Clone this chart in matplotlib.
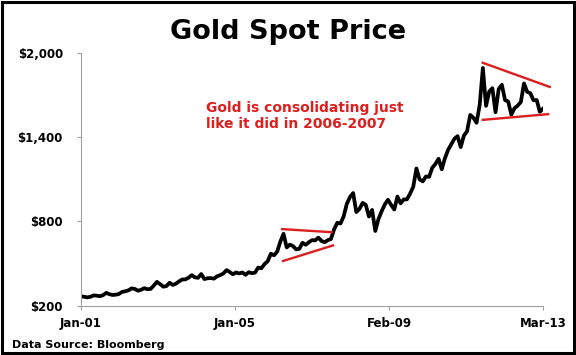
import matplotlib
matplotlib.use("Agg")
import matplotlib.pyplot as plt
from matplotlib.patches import Rectangle

# Monthly gold spot price (USD/oz), Jan-2001 .. Mar-2013
prices = [
    266, 262, 258, 262, 272, 270, 266, 274, 290, 280, 275, 277,      # 2001
    282, 297, 301, 308, 322, 318, 305, 312, 323, 316, 318, 342,      # 2002
    368, 352, 334, 338, 362, 346, 355, 372, 385, 386, 398, 416,      # 2003
    400, 397, 424, 388, 394, 395, 391, 408, 416, 428, 452, 438,      # 2004
    422, 435, 428, 435, 418, 437, 430, 434, 470, 465, 495, 515,      # 2005
    568, 557, 583, 655, 710, 613, 633, 623, 599, 604, 646, 632,      # 2006
    650, 665, 663, 683, 659, 650, 665, 673, 743, 789, 783, 834,      # 2007
    923, 972, 1000, 865, 887, 930, 915, 833, 880, 730, 815, 870,     # 2008
    919, 952, 916, 883, 975, 927, 955, 955, 996, 1045, 1175, 1097,   # 2009
    1083, 1118, 1115, 1180, 1207, 1244, 1169, 1247, 1307, 1346, 1386, 1405,  # 2010
    1327, 1409, 1439, 1556, 1536, 1500, 1628, 1890, 1620, 1722, 1746, 1575,  # 2011
    1740, 1770, 1662, 1651, 1558, 1604, 1622, 1648, 1780, 1720, 1710, 1660,  # 2012
    1662, 1578, 1600,                                                # 2013
]
month_index = list(range(len(prices)))

x_tick_pos = [0, 146 / 3, 2 * 146 / 3, 146]
x_tick_labels = ["Jan-01", "Jan-05", "Feb-09", "Mar-13"]
y_ticks = [200, 800, 1400, 2000]
y_tick_labels = ["$200", "$800", "$1,400", "$2,000"]

# consolidation trend lines (month index, price)
tri1_upper_x = [63.2, 79.6]
tri1_upper_y = [744, 721]
tri1_lower_x = [63.5, 80.0]
tri1_lower_y = [514, 630]
tri2_upper_x = [126.6, 148.5]
tri2_upper_y = [1930, 1752]
tri2_lower_x = [126.6, 148.0]
tri2_lower_y = [1520, 1562]

W, H = 576, 355
fig = plt.figure(figsize=(W / 100, H / 100), dpi=100)
fig.patch.set_facecolor("white")

def fx(px):
    return px / W

def fy(py):
    return 1 - py / H

ax = fig.add_axes([fx(81), fy(305.5), fx(543) - fx(81), fy(52.5) - fy(305.5)])
ax.plot(month_index, prices, color="black", lw=2.7, solid_joinstyle="round")

red = "#dc1e1e"
for xs, ys in [(tri1_upper_x, tri1_upper_y), (tri1_lower_x, tri1_lower_y),
               (tri2_upper_x, tri2_upper_y), (tri2_lower_x, tri2_lower_y)]:
    ax.plot(xs, ys, color=red, lw=1.7, clip_on=False, solid_capstyle="butt")

ax.set_xlim(0, 146)
ax.set_ylim(200, 2000)
ax.set_xticks(x_tick_pos)
ax.set_xticklabels(x_tick_labels)
ax.set_yticks(y_ticks)
ax.set_yticklabels(y_tick_labels)

for s in ["top", "right"]:
    ax.spines[s].set_visible(False)
for s in ["left", "bottom"]:
    ax.spines[s].set_color("#a0a0a0")
    ax.spines[s].set_linewidth(0.8)

ax.tick_params(axis="both", direction="out", length=3, width=0.8, color="#a0a0a0")
ax.tick_params(axis="y", pad=10)
ax.tick_params(axis="x", pad=5.5)
for lab in ax.get_xticklabels() + ax.get_yticklabels():
    lab.set_fontfamily("DejaVu Sans")
    lab.set_fontweight("bold")
    lab.set_fontsize(8.5)
    lab.set_color("black")

fig.text(fx(288), fy(38.6), "Gold Spot Price", ha="center", va="baseline",
         fontsize=19.5, fontweight="bold", family="DejaVu Sans")

fig.text(fx(206), fy(112), "Gold is consolidating just", ha="left", va="baseline",
         fontsize=10, fontweight="bold", color=red, family="DejaVu Sans")
fig.text(fx(206), fy(127.5), "like it did in 2006-2007", ha="left", va="baseline",
         fontsize=10, fontweight="bold", color=red, family="DejaVu Sans")

fig.text(fx(12), fy(348.5), "Data Source: Bloomberg", ha="left", va="baseline",
         fontsize=8, fontweight="bold", family="DejaVu Sans")

fig.patches.append(Rectangle((fx(1.5), fy(352.5)), fx(574) - fx(1.5), fy(1.5) - fy(352.5),
                             transform=fig.transFigure, fill=False, lw=2.2,
                             edgecolor="black"))

fig.savefig("out.png", dpi=100)
